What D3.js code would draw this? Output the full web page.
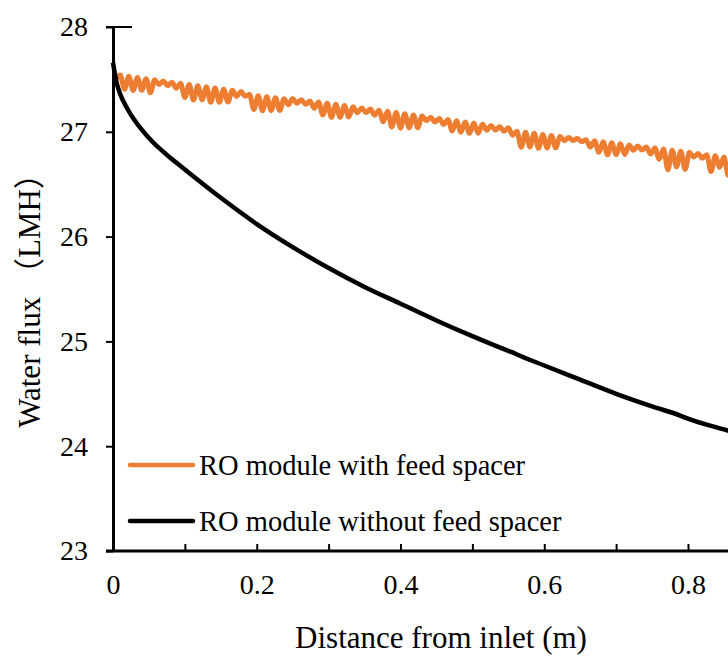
<!DOCTYPE html>
<html>
<head>
<meta charset="utf-8">
<script src="https://cdn.jsdelivr.net/npm/d3@7"></script>
<style>
body { margin: 0; overflow: hidden; background: #fff; }
text { font-family: "Liberation Serif", "Times New Roman", "Noto Sans CJK SC", serif; fill: #000; }
</style>
</head>
<body>
<div id="chart"></div>
<script>
// series: RO module with feed spacer (peaks / dips of the wavy line)
var spacerX = [0.004,0.010,0.016,0.022,0.028,0.034,0.040,0.046,0.052,0.058,0.064,0.070,0.076,0.082,0.088,
  0.094,0.100,0.106,0.112,0.118,0.124,0.130,0.136,0.142,0.148,0.154,0.160,0.166,0.172,0.178,0.184,
  0.190,0.196,0.202,0.208,0.214,0.220,0.226,0.232,0.238,0.244,0.250,0.256,0.262,0.268,0.274,0.280,
  0.286,0.292,0.298,0.304,0.310,0.316,0.322,0.328,0.334,0.340,0.346,0.352,0.358,0.364,0.370,0.376,
  0.382,0.388,0.394,0.400,0.406,0.412,0.418,0.424,0.430,0.436,0.442,0.448,0.454,0.460,0.466,0.472,
  0.478,0.484,0.490,0.496,0.502,0.508,0.514,0.520,0.526,0.532,0.538,0.544,0.550,0.556,0.562,0.568,
  0.574,0.580,0.586,0.592,0.598,0.604,0.610,0.616,0.622,0.628,0.634,0.640,0.646,0.652,0.658,0.664,
  0.670,0.676,0.682,0.688,0.694,0.700,0.706,0.712,0.718,0.724,0.730,0.736,0.742,0.748,0.754,0.760,
  0.766,0.772,0.778,0.784,0.790,0.796,0.802,0.808,0.814,0.820,0.826,0.832,0.838,0.844,0.850,0.856,
  0.862,0.868,0.874,0.880];
var spacerY = [27.50,27.541,27.405,27.530,27.394,27.518,27.396,27.507,27.372,27.496,27.451,27.485,27.440,27.474,27.416,
  27.463,27.327,27.451,27.303,27.440,27.305,27.429,27.281,27.418,27.282,27.407,27.284,27.396,27.338,27.384,27.340,
  27.355,27.212,27.345,27.201,27.335,27.202,27.325,27.204,27.315,27.258,27.318,27.273,27.306,27.262,27.295,27.225,
  27.284,27.161,27.273,27.137,27.262,27.139,27.251,27.141,27.239,27.182,27.228,27.184,27.217,27.159,27.206,27.096,
  27.195,27.046,27.184,27.035,27.172,27.037,27.161,27.039,27.150,27.106,27.139,27.094,27.128,27.070,27.117,27.007,
  27.105,26.996,27.094,26.985,27.083,26.987,27.072,27.014,27.061,27.016,27.050,27.005,27.039,26.968,27.005,26.853,
  26.995,26.855,26.985,26.843,26.975,26.845,26.965,26.847,26.955,26.914,26.945,26.916,26.935,26.905,26.925,26.854,
  26.915,26.804,26.905,26.780,26.895,26.782,26.885,26.784,26.875,26.825,26.865,26.826,26.855,26.789,26.845,26.739,
  26.835,26.637,26.825,26.665,26.815,26.641,26.804,26.759,26.793,26.748,26.782,26.620,26.771,26.661,26.759,26.585,
  26.748,26.613,26.737,26.666];

// series: RO module without feed spacer
var plainX = [0,0.005,0.010,0.020,0.030,0.040,0.050,0.060,0.070,0.080,0.090,0.100,0.150,0.200,0.250,0.300,
  0.350,0.400,0.450,0.500,0.550,0.555,0.562,0.600,0.650,0.700,0.750,0.790,0.797,0.850,0.900];
var plainY = [27.66,27.47,27.36,27.22,27.11,27.02,26.94,26.87,26.81,26.75,26.695,26.64,26.37,26.12,25.90,25.70,
  25.52,25.36,25.20,25.05,24.91,24.897,24.875,24.77,24.635,24.50,24.38,24.29,24.27,24.16,24.06];

var xTicks = [0,0.1,0.2,0.3,0.4,0.5,0.6,0.7,0.8,0.9];
var xLabels = ["0","","0.2","","0.4","","0.6","","0.8",""];
var yTicks = [23,24,25,26,27,28];
var seriesNames = ["RO module with feed spacer","RO module without feed spacer"];
var seriesColors = ["#ED7D31","#000000"];

var w = 728, h = 657;
var mLeft = 113, mTop = 27, plotW = 718.75, plotH = 524;

var svg = d3.select("#chart").append("svg")
  .attr("width", w).attr("height", h);

var x = d3.scaleLinear().domain([0, 1]).range([mLeft, mLeft + plotW]);
var y = d3.scaleLinear().domain([23, 28]).range([mTop + plotH, mTop]);

var line = d3.line()
  .x(function (d) { return x(d[0]); })
  .y(function (d) { return y(d[1]); })
  .curve(d3.curveMonotoneX);

var spacerPts = spacerX.map(function (v, i) { return [v, spacerY[i]]; });
var plainPts = plainX.map(function (v, i) { return [v, plainY[i]]; });

svg.append("path")
  .datum(spacerPts)
  .attr("d", line)
  .attr("fill", "none")
  .attr("stroke", seriesColors[0])
  .attr("stroke-width", 5)
  .attr("stroke-linejoin", "round");

svg.append("path")
  .datum(plainPts)
  .attr("d", line)
  .attr("fill", "none")
  .attr("stroke", seriesColors[1])
  .attr("stroke-width", 4.5)
  .attr("stroke-linejoin", "round");

// y axis
var yAxis = svg.append("g")
  .attr("transform", "translate(" + mLeft + ",0)")
  .call(d3.axisLeft(y).tickValues(yTicks).tickSize(7).tickSizeOuter(0).tickPadding(18)
    .tickFormat(d3.format("d")));
yAxis.select(".domain").attr("stroke-width", 3);
yAxis.selectAll(".tick line").attr("stroke-width", 2);
yAxis.selectAll("text").style("font-size", "28px").attr("font-family", null);

// short mark at the top of the axis
svg.append("line")
  .attr("x1", mLeft - 7).attr("x2", mLeft + 19)
  .attr("y1", y(28)).attr("y2", y(28))
  .attr("stroke", "#000").attr("stroke-width", 2);

// x axis, ticks point inward
var xAxis = svg.append("g")
  .attr("transform", "translate(0," + (mTop + plotH) + ")")
  .call(d3.axisBottom(x).tickValues(xTicks).tickSize(-7).tickSizeOuter(0).tickPadding(23)
    .tickFormat(function (d, i) { return xLabels[i]; }));
xAxis.select(".domain").attr("stroke-width", 3).attr("d", "M" + (mLeft - 7) + ",0H" + (mLeft + plotW));
xAxis.selectAll(".tick line").attr("stroke-width", 2);
xAxis.selectAll("text").style("font-size", "28px").attr("font-family", null);

// legend
var legend = svg.selectAll("g.legend")
  .data(seriesNames)
  .enter()
  .append("g")
  .attr("class", "legend")
  .attr("transform", function (d, i) { return "translate(0," + (465 + i * 56) + ")"; });

legend.append("line")
  .attr("x1", 130).attr("x2", 193)
  .attr("stroke", function (d, i) { return seriesColors[i]; })
  .attr("stroke-width", 4.5)
  .attr("stroke-linecap", "round");

legend.append("text")
  .attr("x", 199).attr("y", 10)
  .style("font-size", "28.5px")
  .text(function (d) { return d; });

// axis titles
svg.append("text")
  .attr("x", 441).attr("y", 648)
  .attr("text-anchor", "middle")
  .style("font-size", "31px")
  .text("Distance from inlet (m)");

svg.append("text")
  .attr("transform", "translate(40,293) rotate(-90)")
  .attr("text-anchor", "middle")
  .style("font-size", "31px")
  .text("Water flux （LMH）");
</script>
</body>
</html>
